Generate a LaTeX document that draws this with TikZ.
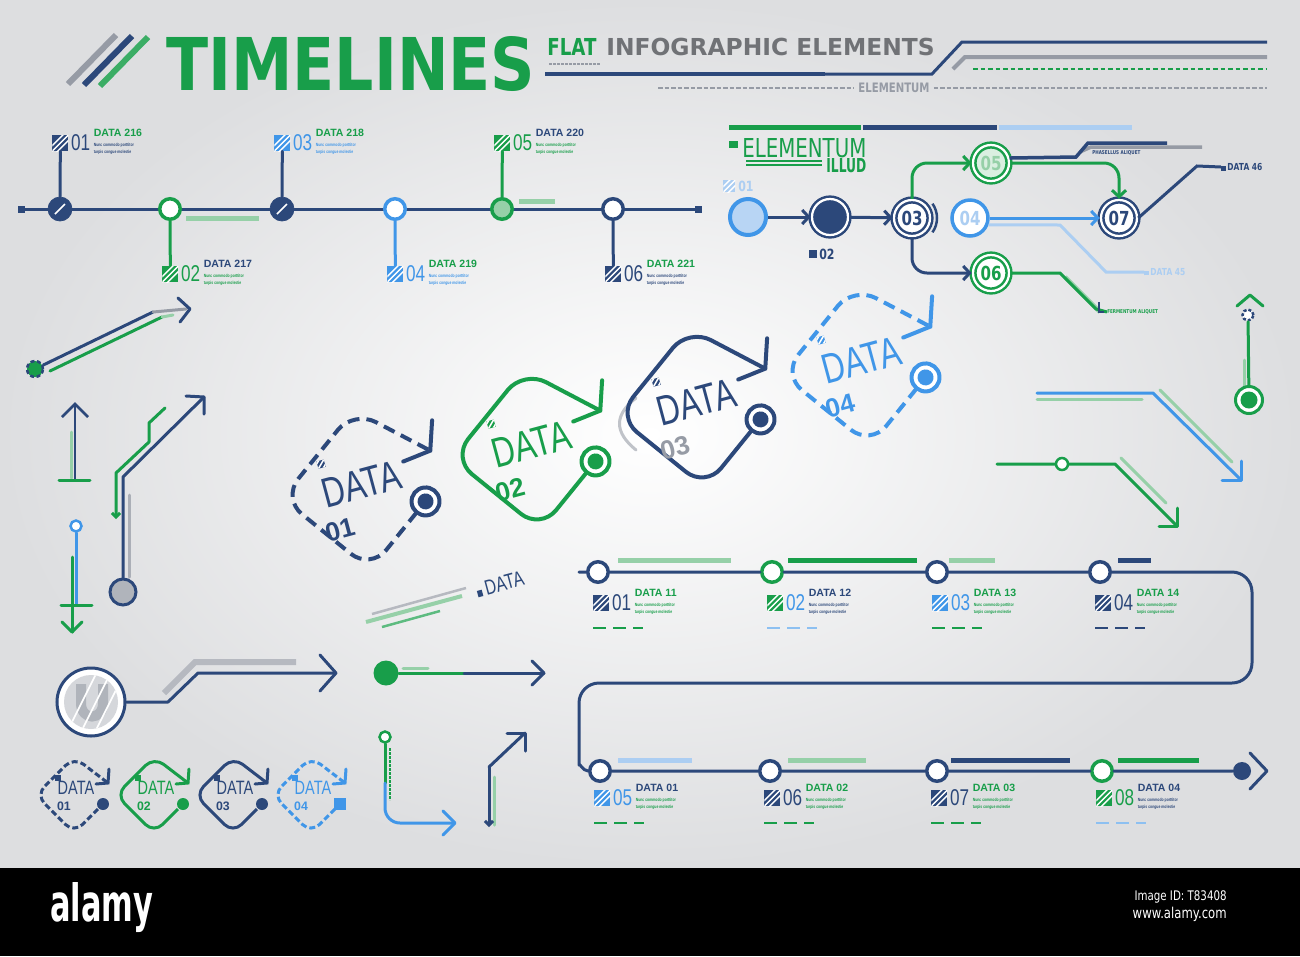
\documentclass[tikz,border=0pt]{standalone}
\usepackage{fontspec}
\setmainfont{Liberation Sans}
\newfontfamily\condfont{DejaVu Sans}[FakeStretch=0.78]
\newfontfamily\widefont{DejaVu Sans}
\newfontfamily\thinfont{Liberation Sans}[FakeStretch=0.75]
\usepackage{graphicx}
\usepackage{tikz}
\usetikzlibrary{arrows.meta,positioning,calc}

\definecolor{navy}{RGB}{44,72,122}
\definecolor{igreen}{RGB}{24,158,74}
\definecolor{iblue}{RGB}{64,150,232}
\definecolor{paleblue}{RGB}{172,206,242}
\definecolor{palegreen}{RGB}{150,208,168}
\definecolor{igrey}{RGB}{150,155,165}
\definecolor{titlegrey}{RGB}{112,114,118}
\definecolor{bgedge}{RGB}{221,222,224}

% step label: hatch box, number, title, two small lines
\newcommand{\steplabel}[8]{%
  \node[hatchbox=#3, anchor=west] (#1h) at #2 {};
  \node[numtxt, text=#5, anchor=west] (#1n) at ($(#1h.east)+(2,0)$) {#4};
  \node[ttltxt, text=#7, anchor=south west] (#1t) at ($(#1n.east)+(3,-6)$) {#6};
  \node[subtxt, text=#8, anchor=north west] (#1s) at ($(#1n.east)+(3,0)$) {Nunc commodo porttitor};
  \node[subtxt, text=#8, anchor=north west] (#1u) at ($(#1n.east)+(3,7)$) {turpis congue molestie};
}

\begin{document}
\begin{tikzpicture}[x=0.2mm, y=-0.2mm,
  ln/.style={line width=0.6mm, line cap=round, line join=round},
  thk/.style={line width=1mm},
  hatchbox/.style={rectangle, fill=#1, minimum size=3.2mm, inner sep=0pt,
    path picture={\foreach \d in {-1.1,0,1.1}
      \draw[white, line width=0.3mm] ($(path picture bounding box.center)+(\d mm-2mm,-2mm)$) -- ++(4mm,4mm);}},
  numtxt/.style={font=\thinfont\fontsize{13}{13}\selectfont, inner sep=0pt},
  ttltxt/.style={font=\bfseries\fontsize{6}{6}\selectfont, inner sep=0pt},
  subtxt/.style={font=\thinfont\bfseries\fontsize{2.6}{2.6}\selectfont, inner sep=0pt},
  tinytxt/.style={font=\condfont\bfseries\fontsize{3}{3}\selectfont, inner sep=0pt},
  smalltxt/.style={font=\condfont\bfseries\fontsize{5.5}{5.5}\selectfont, inner sep=0pt},
  bigtxt/.style={inner sep=0pt, anchor=north west},
  tlring/.style={circle, draw=#1, line width=0.7mm, fill=white, minimum size=4.1mm, inner sep=0pt},
  tlsolid/.style={circle, draw=#1, fill=#1, minimum size=4.8mm, inner sep=0pt,
    path picture={\draw[white, line width=0.3mm] ($(path picture bounding box.south west)+(1.4mm,1.4mm)$) -- ($(path picture bounding box.north east)+(-1.4mm,-1.4mm)$);}},
  flowring/.style={circle, draw=#1, line width=0.5mm, fill=white, minimum size=7.2mm, inner sep=0pt,
    font=\condfont\bfseries\fontsize{11}{11}\selectfont},
  dbl/.style={double=white, double distance=0.45mm},
  flowarr/.style={line width=0.6mm, -{Straight Barb[length=1.3mm, width=2.8mm]}},
  tagtxt/.style={font=\thinfont\fontsize{24}{24}\selectfont, inner sep=0pt},
  tagnum/.style={font=\bfseries\fontsize{15}{15}\selectfont, inner sep=0pt},
  minitxt/.style={font=\thinfont\fontsize{11}{11}\selectfont, inner sep=0pt},
  mininum/.style={font=\bfseries\fontsize{7}{7}\selectfont, inner sep=0pt},
  pics/datatag/.style n args={4}{code={
    \draw[#1, #2, line width=0.8mm, rounded corners=5mm] (52,28) -- (0,80) -- (-80,0) -- (0,-80) -- (72,-32);
    \draw[#1, line width=0.8mm, line cap=round] (77,-62) -- (72,-32) -- (44,-24);
    \draw[#1, line width=0.8mm, fill=white] (62,18) circle[radius=14];
    \fill[#1] (62,18) circle[radius=8];
    \node[tagtxt, text=#1, rotate=15] (-txt) at (0,-6) {DATA};
    \node[tagnum, text=#4, rotate=15] (-num) at (-26,37) {#3};
    \node[hatchbox=#1, minimum size=1.5mm, rotate=15] (-ic) at (-38,-30) {};
  }},
  pics/minitag/.style n args={4}{code={
    \draw[#1, #2, line width=0.6mm, rounded corners=2.4mm] (24,14) -- (0,38) -- (-38,0) -- (0,-38) -- (34,-12);
    \draw[#1, line width=0.6mm, line cap=round] (35,-26) -- (34,-12) -- (22,-11);
    \node[#4, fill=#1, minimum size=2.4mm, inner sep=0pt] (-mk) at (29,9) {};
    \node[minitxt, text=#1] (-txt) at (2,-7) {DATA};
    \node[mininum, text=#1] (-num) at (-10,11) {#3};
    \node[rectangle, fill=#1, minimum size=1.1mm, inner sep=0pt] (-ic) at (-16,-17) {};
  }},
]
\useasboundingbox (0,0) rectangle (1300,956);

%% Background
\shade[inner color=white, outer color=bgedge] (0,0) rectangle (1300,868);

%% Header
\draw[igrey, line width=1.2mm] (68,84) -- (116,35);
\draw[navy, line width=1.2mm] (84,85) -- (132,36);
\draw[igreen!85, line width=1.2mm] (100,86) -- (148,37);
\node[bigtxt, text=igreen] (title) at (166,36) {\resizebox{73.8mm}{10.8mm}{\condfont\bfseries TIMELINES}};
\node[inner sep=0pt, anchor=base west, text=igreen, font=\condfont\bfseries\fontsize{13.3}{13.3}\selectfont] (flat) at (547,55) {FLAT};
\node[inner sep=0pt, anchor=base west, text=titlegrey, font=\widefont\bfseries\fontsize{13.3}{13.3}\selectfont] (infog) at (606,55) {INFOGRAPHIC ELEMENTS};
\draw[igrey, line width=0.5mm, dash pattern=on 0.5mm off 0.3mm] (549,64) -- (600,64);
\draw[navy, line width=0.9mm] (545,74) -- (825,74);
\draw[navy, line width=0.6mm] (825,74) -- (932,74) -- (962,42) -- (1267,42);
\draw[igrey, line width=0.8mm] (953,69) -- (965,57) -- (1267,57);
\draw[igreen, line width=0.4mm, dash pattern=on 0.9mm off 0.6mm] (973,69) -- (1266,69);
\node[inner sep=0pt, text=igrey, font=\condfont\bfseries\fontsize{7.4}{7.4}\selectfont] (elem) at (894,88) {ELEMENTUM};
\draw[igrey, line width=0.5mm, dash pattern=on 0.9mm off 0.4mm] (658,88) -- ($(elem.west)+(-4,0)$);
\draw[igrey, line width=0.5mm, dash pattern=on 0.9mm off 0.4mm] ($(elem.east)+(4,0)$) -- (1267,88);

%% Timeline 1
\coordinate (tla) at (18,209);
\coordinate (tlb) at (702,209);
\draw[navy, ln, {Square[length=1.4mm,width=1.4mm]}-{Square[length=1.4mm,width=1.4mm]}] (tla) -- (tlb);
\draw[palegreen, thk] (186,218) -- (259,218);
\draw[palegreen, thk] (519,201) -- (555,201);
\node[tlsolid=navy] (t1) at (60,209) {};
\node[tlring=igreen] (t2) at (170,209) {};
\node[tlsolid=navy] (t3) at (282,209) {};
\node[tlring=iblue] (t4) at (395,209) {};
\node[tlring=igreen, fill=palegreen] (t5) at (502,209) {};
\node[tlring=navy] (t6) at (613,209) {};
\steplabel{la}{(52,143)}{navy}{01}{navy}{DATA 216}{igreen}{navy}
\steplabel{lb}{(162,274)}{igreen}{02}{igreen}{DATA 217}{navy}{igreen}
\steplabel{lc}{(274,143)}{iblue}{03}{iblue}{DATA 218}{igreen}{iblue}
\steplabel{ld}{(387,274)}{iblue}{04}{iblue}{DATA 219}{igreen}{iblue}
\steplabel{le}{(494,143)}{igreen}{05}{igreen}{DATA 220}{navy}{igreen}
\steplabel{lf}{(605,274)}{navy}{06}{navy}{DATA 221}{igreen}{navy}
\draw[navy, ln] (t1) -- (lah);
\draw[igreen, ln] (t2) -- (lbh);
\draw[navy, ln] (t3) -- (lch);
\draw[iblue, ln] (t4) -- (ldh);
\draw[igreen, ln] (t5) -- (leh);
\draw[navy, ln] (t6) -- (lfh);

%% Flow diagram
\draw[igreen, thk] (729,127) -- (861,127);
\draw[navy, thk] (863,127) -- (997,127);
\draw[paleblue, thk] (999,127) -- (1132,127);
\node[rectangle, fill=igreen, minimum width=1.8mm, minimum height=1.4mm, inner sep=0pt] (esq) at (733,144) {};
\node[bigtxt, text=igreen] (elemb) at (742,138) {\resizebox{24.8mm}{3.8mm}{\condfont ELEMENTUM}};
\draw[igreen, line width=0.3mm] (746,161) -- (822,161);
\draw[igreen, line width=0.3mm] (746,165) -- (822,165);
\node[bigtxt, text=igreen] (illud) at (826,158) {\resizebox{8mm}{2.8mm}{\condfont\bfseries ILLUD}};
\node[hatchbox=paleblue, minimum size=2.4mm, anchor=west] (f1h) at (723,186) {};
\node[anchor=west, inner sep=0pt, text=paleblue, font=\condfont\bfseries\fontsize{8}{8}\selectfont] (f1n) at (738,186) {01};
\node[flowring=iblue, line width=0.8mm, fill=paleblue!85] (c1) at (748,217) {};
\node[flowring=navy, dbl, fill=navy] (c2) at (830,217) {};
\node[flowring=navy, dbl, text=navy] (c3) at (912,218) {03};
\node[flowring=iblue, line width=0.7mm, text=paleblue] (c4) at (970,218) {04};
\node[flowring=igreen, dbl, fill=palegreen!35, text=palegreen] (c5) at (991,163) {05};
\node[flowring=igreen, dbl, text=igreen] (c6) at (991,273) {06};
\node[flowring=navy, dbl, text=navy] (c7) at (1119,218) {07};
\node[rectangle, fill=navy, minimum size=1.6mm, inner sep=0pt] (q2) at (813,254) {};
\node[anchor=west, inner sep=0pt, text=navy, font=\condfont\bfseries\fontsize{8}{8}\selectfont] (q2n) at (819,254) {02};
\draw[navy, line width=0.5mm] (c3.center) ++(-35:25) arc[start angle=-35, end angle=35, radius=25];
\draw[navy, flowarr] (c1) -- (c2);
\draw[navy, flowarr] (c2) -- (c3);
\draw[igreen, flowarr, rounded corners=3mm] (c3.north) |- (c5.west);
\draw[navy, flowarr, rounded corners=3mm] (c3.south) |- (c6.west);
\draw[iblue, flowarr] (c4) -- (c7);
\draw[igreen, flowarr, rounded corners=3mm] (c5.east) -| (c7.north);
\node[smalltxt, anchor=west, text=paleblue] (d45) at (1144,272) {\rule{0.9mm}{0.9mm}\,DATA 45};
\draw[paleblue, line width=0.6mm] (c4.-20) -- (1060,225) -- (1106,272) -- (d45.west);
\node[smalltxt, anchor=west, text=navy] (d46) at (1221,167) {\rule{0.9mm}{0.9mm}\,DATA 46};
\draw[navy, line width=0.6mm] (c7.east) -- (1197,166) -- (d46.west);
\node[tinytxt, anchor=west, text=navy] (ph) at (1092,153) {PHASELLUS ALIQUET};
\draw[igrey, line width=0.7mm] (1080,152) -- (1091,147) -- (1202,147);
\draw[navy, line width=0.7mm] (c5.15) -- (1076,157) -- (1088,143) -- (1167,143);
\node[tinytxt, anchor=west, text=igreen] (fa) at (1107,312) {FERMENTUM ALIQUET};
\draw[palegreen, line width=0.9mm] (1065,277) -- (1100,312);
\draw[igreen, line width=0.6mm] (c6.east) -- (1060,273) -- (1096,309) -- (fa.west);
\draw[navy, line width=0.5mm] (1099,302) -- (1099,312) -- (1104,312);

%% Loose arrows, left
\node[circle, draw=navy, line width=0.5mm, dash pattern=on 0.8mm off 0.5mm, fill=igreen, minimum size=3.2mm, inner sep=0pt] (pin1) at (35,369) {};
\draw[igreen, ln] (50,371) -- (162,317);
\draw[palegreen, ln] (162,317) -- (173,315);
\draw[navy, ln] (pin1) -- (153,312);
\draw[igrey, ln] (153,312) -- (186,309);
\draw[navy, ln] (178,298) -- (190,309) -- (180,322);
\draw[palegreen, ln] (71,432) -- (71,478);
\draw[navy, line width=0.5mm] (75,480) -- (75,404);
\draw[navy, line width=0.5mm] (62,417) -- (75,404) -- (88,417);
\draw[igreen, ln] (59,480) -- (90,480);
\node[circle, draw=navy, line width=0.6mm, fill=igrey!75, minimum size=5.2mm, inner sep=0pt] (pin2) at (123,592) {};
\draw[igrey!80, ln] (129,495) -- (129,577);
\draw[navy, ln] (pin2) -- (123,477) -- (204,397);
\draw[navy, ln] (186,396) -- (204,397) -- (204,414);
\draw[igreen, ln, -{Straight Barb[length=0.8mm,width=1.6mm]}] (165,408) -- (149,423) -- (149,442) -- (116,473) -- (116,519);
\node[circle, draw=iblue, line width=0.5mm, fill=white, minimum size=2.2mm, inner sep=0pt] (pin3) at (76,526) {};
\draw[igreen, ln] (72,557) -- (72,632);
\draw[igreen, ln] (62,622) -- (72,632) -- (82,622);
\draw[iblue, ln] (pin3) -- (76,605);
\draw[igreen, ln] (61,605) -- (92,605);

%% Data tags
\draw[igrey!60, ln] (636,398) .. controls (614,415) and (614,432) .. (636,450);
\pic[rotate=6] (tg1) at (362,490) {datatag={navy}{dash pattern=on 2.4mm off 1.4mm}{01}{navy}};
\pic[rotate=6] (tg2) at (532,450) {datatag={igreen}{solid}{02}{igreen}};
\pic[rotate=6] (tg3) at (697,408) {datatag={navy}{solid}{03}{igrey}};
\pic[rotate=6] (tg4) at (862,366) {datatag={iblue}{dash pattern=on 2.4mm off 1.4mm}{04}{iblue}};
\draw[palegreen, line width=0.8mm] (366,622) -- (462,596);
\draw[igrey!70, line width=0.5mm] (372,614) -- (466,588);
\draw[igreen!70, line width=0.5mm] (382,627) -- (440,611);
\node[text=navy, inner sep=0pt, rotate=15, font=\thinfont\fontsize{12}{12}\selectfont] (dnote) at (500,584) {\rule{1mm}{1.3mm}\,DATA};

%% Right side arrows
\draw[palegreen, ln] (1244,360) -- (1244,390);
\draw[igreen, ln] (1237,306) -- (1250,295) -- (1263,306);
\node[circle, draw=navy, line width=0.5mm, dash pattern=on 0.6mm off 0.4mm, fill=white, minimum size=2.2mm, inner sep=0pt] (hm) at (1248,315) {};
\node[circle, draw=igreen, line width=0.6mm, fill=white, minimum size=5.4mm, inner sep=0pt,
      path picture={\fill[igreen] (path picture bounding box.center) circle (1.7mm);}] (hc) at (1249,400) {};
\draw[igreen, ln] (hm) -- (hc);
\draw[palegreen, ln] (1037,399) -- (1142,399);
\draw[palegreen, ln] (1160,390) -- (1232,462);
\draw[iblue, ln] (1037,393) -- (1153,393) -- (1240,479);
\draw[iblue, ln] (1222,480) -- (1241,480) -- (1241,461);
\node[circle, draw=igreen, line width=0.5mm, fill=white, minimum size=2.4mm, inner sep=0pt] (gr) at (1062,464) {};
\draw[palegreen, ln] (1121,458) -- (1166,503);
\draw[igreen, ln] (997,464) -- (gr) -- (1115,464) -- (1177,526);
\draw[igreen, ln] (1159,526) -- (1177,526) -- (1177,508);

%% Serpentine timeline
\draw[palegreen, thk] (618,560) -- (731,560);
\draw[igreen, thk] (788,560) -- (917,560);
\draw[palegreen, thk] (949,560) -- (995,560);
\draw[navy, thk] (1118,560) -- (1151,560);
\draw[paleblue, thk] (618,760) -- (692,760);
\draw[palegreen, thk] (788,760) -- (866,760);
\draw[navy, thk] (951,760) -- (1070,760);
\draw[igreen, thk] (1118,760) -- (1199,760);
\coordinate (sa) at (579,572);
\node[tlring=navy] (b1) at (598,572) {};
\node[tlring=igreen] (b2) at (772,572) {};
\node[tlring=navy] (b3) at (937,572) {};
\node[tlring=navy] (b4) at (1100,572) {};
\node[tlring=navy] (b5) at (600,771) {};
\node[tlring=navy] (b6) at (770,771) {};
\node[tlring=navy] (b7) at (937,771) {};
\node[tlring=igreen] (b8) at (1102,771) {};
\node[circle, fill=navy, minimum size=3.6mm, inner sep=0pt] (bend) at (1242,771) {};
\draw[navy, ln, rounded corners=4mm] (sa) -- (b1) -- (b2) -- (b3) -- (b4) -- (1252,572) -- (1252,683) -- (579,683) -- (579,745) .. controls (579,762) and (583,771) .. (b5) -- (b6) -- (b7) -- (b8) -- (bend);
\draw[navy, ln] ($(bend)+(8,-18)$) -- ++(17,18) -- ++(-17,18);
\steplabel{sa}{(593,603)}{navy}{01}{navy}{DATA 11}{igreen}{igreen}
\steplabel{sb}{(767,603)}{igreen}{02}{iblue}{DATA 12}{navy}{navy}
\steplabel{sc}{(932,603)}{iblue}{03}{iblue}{DATA 13}{igreen}{igreen}
\steplabel{sd}{(1095,603)}{navy}{04}{navy}{DATA 14}{igreen}{igreen}
\steplabel{se}{(594,798)}{iblue}{05}{iblue}{DATA 01}{navy}{igreen}
\steplabel{sf}{(764,798)}{navy}{06}{navy}{DATA 02}{igreen}{igreen}
\steplabel{sg}{(931,798)}{navy}{07}{navy}{DATA 03}{igreen}{igreen}
\steplabel{sh}{(1096,798)}{igreen}{08}{igreen}{DATA 04}{navy}{navy}
\draw[igreen, line width=0.5mm, dash pattern=on 2.6mm off 1.4mm] (593,628) -- (643,628);
\draw[iblue!60, line width=0.5mm, dash pattern=on 2.6mm off 1.4mm] (767,628) -- (817,628);
\draw[igreen, line width=0.5mm, dash pattern=on 2.6mm off 1.4mm] (932,628) -- (982,628);
\draw[navy, line width=0.5mm, dash pattern=on 2.6mm off 1.4mm] (1095,628) -- (1145,628);
\draw[igreen, line width=0.5mm, dash pattern=on 2.6mm off 1.4mm] (594,823) -- (644,823);
\draw[igreen, line width=0.5mm, dash pattern=on 2.6mm off 1.4mm] (764,823) -- (814,823);
\draw[igreen, line width=0.5mm, dash pattern=on 2.6mm off 1.4mm] (931,823) -- (981,823);
\draw[iblue!60, line width=0.5mm, dash pattern=on 2.6mm off 1.4mm] (1096,823) -- (1146,823);

%% Bottom left
\node[circle, draw=navy, line width=0.6mm, fill=white, minimum size=13.6mm, inner sep=0pt] (bigc) at (91,702) {};
\fill[igrey!40] (bigc.center) circle[radius=27];
\draw[igrey!75, line width=2mm] (81,684) -- (81,703) .. controls (81,721) and (103,721) .. (103,703) -- (103,684);
\begin{scope}
  \clip (bigc.center) circle[radius=27];
  \foreach \o in {-24,-10,4,18}
    \draw[white, line width=0.35mm] ($(bigc.center)+(\o,30)$) -- ++(30,-60);
\end{scope}
\draw[igrey!70, line width=1.2mm] (164,693) -- (195,662) -- (296,662);
\draw[navy, ln] (bigc) -- (168,702) -- (198,673) -- (336,673);
\draw[navy, ln] (320,655) -- (336,673) -- (320,691);
\node[circle, fill=igreen, minimum size=5mm, inner sep=0pt] (gdot) at (386,673) {};
\draw[palegreen, ln] (403,668) -- (428,668);
\draw[igreen, ln] (gdot) -- (464,673);
\draw[navy, ln] (464,673) -- (544,673);
\draw[navy, ln] (532,661) -- (544,673) -- (532,685);
\node[circle, draw=igreen, line width=0.5mm, fill=white, minimum size=2.2mm, inner sep=0pt] (lpin) at (385,737) {};
\draw[igreen, line width=0.4mm, dash pattern=on 0.5mm off 0.3mm] (390,748) -- (390,800);
\draw[igreen, ln] (lpin) -- (385,783);
\draw[iblue, ln, rounded corners=3mm] (385,783) -- (385,823) -- (453,823);
\draw[iblue, ln] (443,811) -- (455,823) -- (443,835);
\draw[palegreen, ln] (494,777) -- (494,825);
\draw[navy, ln, -{Straight Barb[length=0.8mm,width=1.6mm]}] (489,767) -- (489,827);
\draw[navy, ln] (489,767) -- (525,733);
\draw[navy, ln] (507,733) -- (525,733) -- (525,751);
\pic (m1) at (74,795) {minitag={navy}{dash pattern=on 1.2mm off 0.6mm}{01}{circle}};
\pic (m2) at (154,795) {minitag={igreen}{solid}{02}{circle}};
\pic (m3) at (233,795) {minitag={navy}{solid}{03}{circle}};
\pic (m4) at (311,795) {minitag={iblue}{dash pattern=on 1.2mm off 0.6mm}{04}{rectangle}};

%% Footer
\fill[black] (0,868) rectangle (1300,956);
\node[anchor=base west, inner sep=0pt, text=white] (alamy) at (50,921) {\resizebox{20.6mm}{7.8mm}{\condfont\bfseries alamy}};
\node[anchor=east, inner sep=0pt, text=white, font=\condfont\fontsize{7.5}{7.5}\selectfont] (imgid) at (1227,897) {Image ID: T83408};
\node[anchor=east, inner sep=0pt, text=white, font=\condfont\fontsize{8.5}{8.5}\selectfont] (www) at (1227,914) {www.alamy.com};

\end{tikzpicture}
\end{document}
